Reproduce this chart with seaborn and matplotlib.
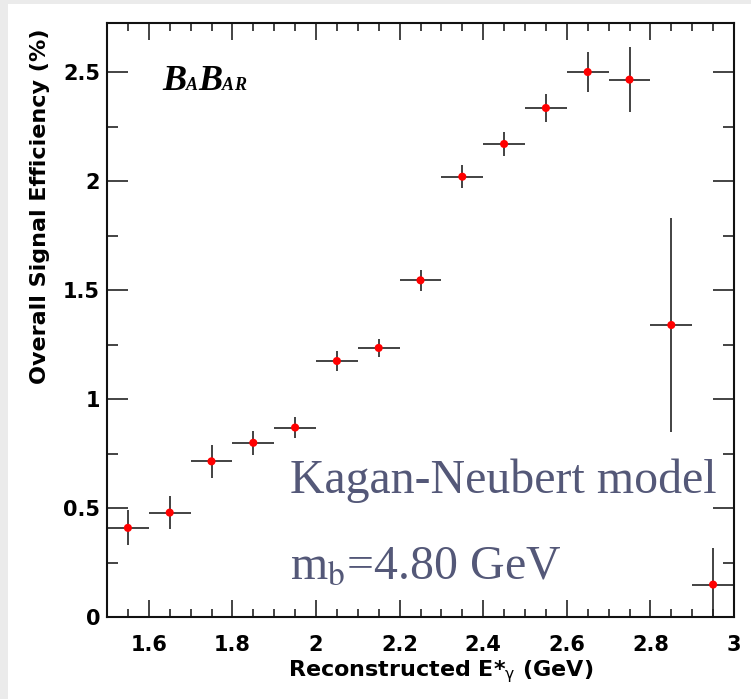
import matplotlib
matplotlib.use("Agg")
import matplotlib.pyplot as plt
import seaborn as sns
import numpy as np
import pandas as pd
from matplotlib.patches import Rectangle
from matplotlib.offsetbox import TextArea, HPacker, AnnotationBbox
from matplotlib.ticker import MultipleLocator

# Photon energy bins (GeV): centres and half-widths
e_gamma = [1.55, 1.65, 1.75, 1.85, 1.95, 2.05, 2.15, 2.25,
           2.35, 2.45, 2.55, 2.65, 2.75, 2.85, 2.95]
bin_half_width = [0.05] * len(e_gamma)
# Overall signal efficiency (%) and its uncertainty
efficiency = [0.41, 0.48, 0.715, 0.80, 0.87, 1.175, 1.235, 1.545,
              2.02, 2.17, 2.335, 2.50, 2.465, 1.34, 0.15]
efficiency_err = [0.08, 0.074, 0.075, 0.055, 0.05, 0.048, 0.041, 0.048,
                  0.053, 0.054, 0.065, 0.09, 0.148, 0.49, 0.166]

df = pd.DataFrame({"E": e_gamma, "eff": efficiency,
                   "xerr": bin_half_width, "yerr": efficiency_err})

sns.set_theme(style="ticks")
plt.rcParams["font.family"] = ["DejaVu Sans"]

W, H = 751, 699
fig = plt.figure(figsize=(W / 100, H / 100), dpi=100)
fig.patch.set_facecolor("#ebebeb")
fig.add_artist(Rectangle((8 / W, 0), 1, (H - 4) / H, transform=fig.transFigure,
                         facecolor="white", edgecolor="none", zorder=-10))

ax = fig.add_axes([107 / W, 1 - 617.3 / H, 627 / W, 594.6 / H])
ax.set_facecolor("white")

ax.errorbar(df["E"], df["eff"], xerr=df["xerr"], yerr=df["yerr"],
            fmt="none", ecolor="#222222", elinewidth=1.2, capsize=0, zorder=2)
sns.scatterplot(data=df, x="E", y="eff", ax=ax, color="#ff0000", marker="o",
                s=34, edgecolor="none", linewidth=0, zorder=3)

ax.set_xlim(1.5, 3.0)
ax.set_ylim(0, 2.726)
ax.xaxis.set_major_locator(MultipleLocator(0.2))
ax.xaxis.set_minor_locator(MultipleLocator(0.05))
ax.yaxis.set_major_locator(MultipleLocator(0.5))
ax.yaxis.set_minor_locator(MultipleLocator(0.25))
ax.set_xticks([1.6, 1.8, 2.0, 2.2, 2.4, 2.6, 2.8, 3.0])
ax.set_xticklabels(["1.6", "1.8", "2", "2.2", "2.4", "2.6", "2.8", "3"])
ax.set_yticks([0, 0.5, 1.0, 1.5, 2.0, 2.5])
ax.set_yticklabels(["0", "0.5", "1", "1.5", "2", "2.5"])

for s in ax.spines.values():
    s.set_linewidth(1.5)
    s.set_color("#111111")
    s.set_visible(True)

ax.tick_params(axis="both", which="both", direction="in", top=True, right=True,
               color="#111111", width=1.1)
ax.tick_params(axis="x", which="major", length=12.5, pad=13)
ax.tick_params(axis="x", which="minor", length=6)
ax.tick_params(axis="y", which="major", length=15, pad=5)
ax.tick_params(axis="y", which="minor", length=8)
for lab in ax.get_xticklabels() + ax.get_yticklabels():
    lab.set_fontsize(15)
    lab.set_fontweight("bold")
    lab.set_color("black")

ax.set_xlabel(r"Reconstructed E*$_{\mathrm{\gamma}}$ (GeV)", fontsize=16,
              fontweight="bold", color="black", math_fontfamily="dejavusans")
ax.xaxis.set_label_coords(0.533, -0.068)
ax.set_ylabel("Overall Signal Efficiency (%)", fontsize=16, fontweight="bold",
              color="black", loc="top")
ax.yaxis.set_label_coords(-0.091, 0.99)

# Experiment logo
big = dict(family="Liberation Serif", weight="bold", style="italic",
           size=26, color="black")
small = dict(family="Liberation Serif", weight="bold", style="italic",
             size=13, color="black")
logo = HPacker(children=[TextArea("B", textprops=big),
                         TextArea("A", textprops=small),
                         TextArea("B", textprops=big),
                         TextArea("A", textprops=small),
                         TextArea("R", textprops=small)],
               align="baseline", pad=0, sep=0)
fig.add_artist(AnnotationBbox(logo, (162, H - 98), xycoords="figure pixels",
                              box_alignment=(0, 0), frameon=False, pad=0))

# Model annotation
note_color = "#545878"
ax.text(290 / W, 1 - 493 / H, "Kagan-Neubert model", transform=fig.transFigure,
        family="Liberation Serif", size=34.5, color=note_color,
        ha="left", va="baseline")
ax.text(290 / W, 1 - 580 / H, r"m$_{\mathrm{b}}$=4.80 GeV",
        transform=fig.transFigure, family="Liberation Serif", size=34.5,
        color=note_color, ha="left", va="baseline", math_fontfamily="stix")

fig.savefig("out.png", dpi=100, facecolor=fig.get_facecolor())
